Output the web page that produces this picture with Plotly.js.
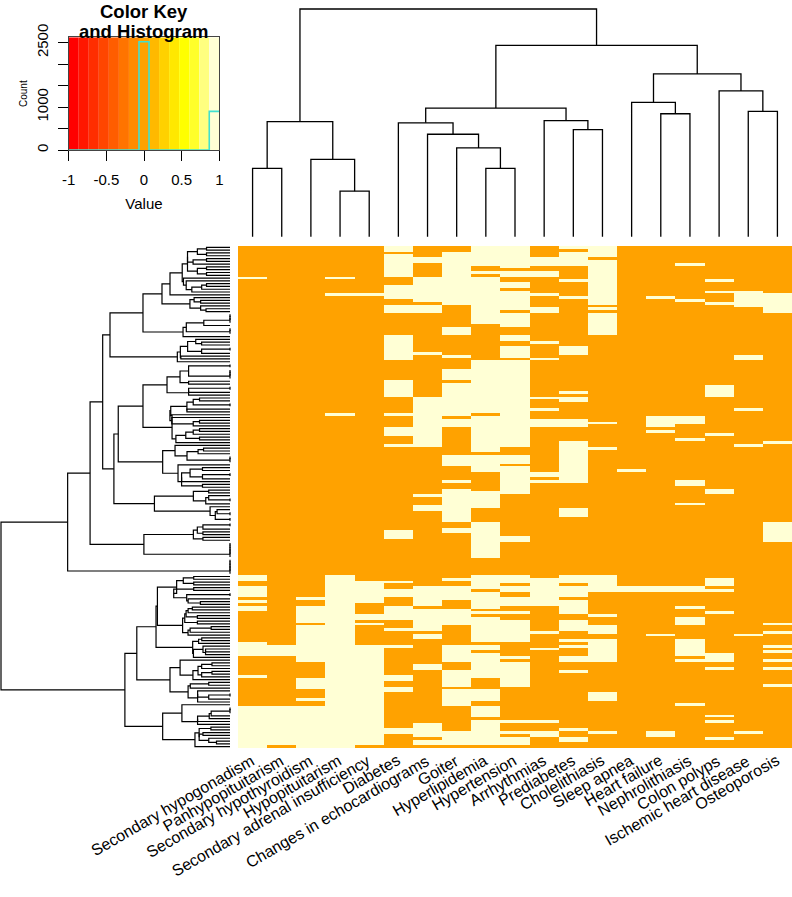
<!DOCTYPE html>
<html><head><meta charset="utf-8">
<script src="https://cdn.plot.ly/plotly-3.0.1.min.js"></script>
<style>html,body{margin:0;padding:0;background:#fff;}#chart{width:792px;height:897px;}</style>
</head><body><div id="chart"></div>
<script>
// ---------- DATA ----------
const columnLabels = ["Secondary hypogonadism","Panhypopituitarism","Secondary hypothyroidism","Hypopituitarism","Secondary adrenal insufficiency","Diabetes","Changes in echocardiograms","Goiter","Hyperlipidemia","Hypertension","Arrhythmias","Prediabetes","Cholelithiasis","Sleep apnea","Heart failure","Nephrolithiasis","Colon polyps","Ischemic heart disease","Osteoporosis"];
const nRows = 180;
// rows (top = 0) where each column has value 1, as [first,last] runs
const onesSecHypogonadism = [[11,11],[118,119],[122,125],[127,127],[129,130],[142,146],[154,154],[165,179]];
const onesPanhypopit = [[143,146],[165,178]];
const onesSecHypothyroid = [[126,126],[129,134],[136,148],[155,158],[162,162],[165,179]];
const onesHypopit = [[11,11],[17,17],[60,60],[118,179]];
const onesSecAdrenal = [[17,17],[120,127],[132,133],[135,135],[143,178]];
const onesDiabetes = [[0,1],[3,10],[14,18],[21,23],[32,40],[48,53],[60,60],[65,67],[71,71],[102,104],[120,120],[123,125],[129,133],[137,137],[143,143],[154,155],[158,159],[173,174]];
const onesEcho = [[4,5],[11,19],[21,23],[38,38],[54,71],[89,89],[93,94],[122,128],[130,137],[139,140],[150,151],[171,175],[177,178]];
const onesGoiter = [[2,20],[29,31],[39,39],[44,47],[49,60],[62,64],[75,78],[84,84],[87,98],[101,102],[119,119],[122,126],[130,135],[143,148],[152,157],[159,164],[174,178]];
const onesHyperlipidemia = [[0,6],[9,9],[11,27],[41,59],[61,73],[75,80],[88,93],[99,111],[118,122],[124,129],[131,131],[133,141],[143,144],[146,154],[159,162],[165,168],[170,178]];
const onesHypertension = [[0,7],[9,10],[13,14],[16,22],[24,28],[32,33],[36,39],[41,71],[75,77],[79,88],[104,105],[118,120],[122,123],[126,128],[131,131],[134,141],[147,147],[149,157],[170,170],[174,174],[176,178]];
const onesArrhythmias = [[4,6],[9,10],[17,17],[22,23],[34,34],[40,40],[54,54],[58,58],[62,64],[81,82],[84,84],[119,128],[138,138],[144,144],[170,170],[174,175]];
const onesPrediabetes = [[0,0],[2,6],[12,12],[18,18],[36,38],[52,52],[54,55],[62,64],[70,84],[94,96],[118,120],[122,125],[127,131],[134,137],[141,141],[143,143],[147,148],[152,152],[173,173],[176,177]];
const onesCholelithiasis = [[0,3],[5,20],[22,22],[24,31],[63,63],[72,72],[118,123],[132,132],[136,138],[141,148],[160,162],[174,174]];
const onesSleepApnea = [[80,80],[122,123]];
const onesHeartFailure = [[18,18],[61,64],[66,66],[122,123],[139,139],[174,175]];
const onesNephrolithiasis = [[6,6],[19,19],[61,63],[69,69],[84,85],[92,92],[122,123],[129,129],[133,135],[141,146],[148,148],[164,164]];
const onesColonPolyps = [[12,12],[16,16],[20,20],[50,53],[67,67],[87,88],[119,121],[123,123],[131,131],[146,148],[151,151],[168,168],[170,170],[176,176]];
const onesIschemic = [[16,21],[39,40],[58,58],[71,71],[139,139],[174,174]];
const onesOsteoporosis = [[17,23],[70,70],[99,105],[135,135],[138,138],[143,143],[145,145],[148,148],[151,151],[157,157]];
const onesByColumn = [onesSecHypogonadism,onesPanhypopit,onesSecHypothyroid,onesHypopit,onesSecAdrenal,onesDiabetes,onesEcho,onesGoiter,onesHyperlipidemia,onesHypertension,onesArrhythmias,onesPrediabetes,onesCholelithiasis,onesSleepApnea,onesHeartFailure,onesNephrolithiasis,onesColonPolyps,onesIschemic,onesOsteoporosis];

// column dendrogram: [height, left, right], "*" = next column
const colTree = [1.0,
  [0.505,[0.30,"*","*"],[0.34,"*",[0.20,"*","*"]]],
  [0.84,
    [0.565,[0.50,"*",[0.45,"*",[0.39,"*",[0.30,"*","*"]]]],[0.51,"*",[0.47,"*","*"]]],
    [0.715,[0.59,"*",[0.54,"*","*"]],[0.64,"*",[0.55,"*","*"]]]]];

// row dendrogram: [height, upper, lower]; "first-last:height" = block of rows
const rowTree = [1.0,
  [0.709,
    [0.611,
      [0.556,
        [0.524,[0.38,[0.297,"0-17:0.262","18-23:0.175"],"24-32:0.205"],"33-41:0.23"],
        [0.507,
          [0.488,[0.38,"42-53:0.275","54-70:0.253"],[0.294,"71-77:0.24","78-86:0.227"]],
          [0.33,"87-92:0.16","93-98:0.087"]]],
      [0.376,"99-105:0.16","106-111:0"]],
    "112-117:0"],
  [0.459,
    [0.407,
      [0.323,[0.317,"118-128:0.233","129-139:0.207"],"140-147:0.163"],
      [0.262,"148-155:0.218","156-163:0.183"]],
    [0.294,"164-171:0.21","172-179:0.153"]]];

// colour key
const keyColors = ["#FF0000","#FF1700","#FF2E00","#FF4600","#FF5D00","#FF7400","#FF8B00","#FFA200","#FFB900","#FFD100","#FFE800","#FFFF00","#FFFF2A","#FFFF80","#FFFFD5"];
const histCounts = [0,0,0,0,0,0,0,2520,0,0,0,0,0,0,900];
const keyTicks = [-1,-0.5,0,0.5,1];
const keyTickText = ["-1","-0.5","0","0.5","1"];
const countTicks = [0,500,1000,1500,2000,2500];
const countTickText = ["0","","1000","","","2500"];

// ---------- BUILD ----------
const W = 792, H = 897;
const fx = p => p / W, fy = p => 1 - p / H;
const nCols = columnLabels.length;
const z = [];
for (let r = 0; r < nRows; r++) z.push(new Array(nCols).fill(0));
onesByColumn.forEach((runs, c) => runs.forEach(([a, b]) => { for (let r = a; r <= b; r++) z[r][c] = 1; }));

const colSegX = [], colSegY = [];
let colCounter = 0;
function layCol(node) {
  if (node === "*") return {pos: colCounter++, h: 0};
  const a = layCol(node[1]), b = layCol(node[2]);
  colSegX.push(a.pos, a.pos, b.pos, b.pos, null);
  colSegY.push(a.h, node[0], node[0], b.h, null);
  return {pos: (a.pos + b.pos) / 2, h: node[0]};
}
layCol(colTree);

function rowDist(r1, r2) { let s = 0; for (let j = 0; j < nCols; j++) { const d = z[r1][j] - z[r2][j]; s += d * d; } return Math.sqrt(s); }
function buildBlock(a, b, Hb) {
  let cl = [];
  for (let r = a; r <= b; r++) cl.push({t: r, m: [r]});
  while (cl.length > 1) {
    let best = -1, bd = Infinity;
    for (let i = 0; i < cl.length - 1; i++) {
      let s = 0;
      cl[i].m.forEach(p => cl[i + 1].m.forEach(q => { s += rowDist(p, q); }));
      const d = s / (cl[i].m.length * cl[i + 1].m.length);
      if (d < bd - 1e-9) { bd = d; best = i; }
    }
    const L = cl[best], R = cl[best + 1];
    cl.splice(best, 2, {t: [bd, L.t, R.t], m: L.m.concat(R.m)});
  }
  const root = cl[0].t;
  if (typeof root === "number") return root;
  const top = root[0];
  const f = top > 0 ? Hb / top : 0;
  function sc(n) { if (typeof n === "number") return n; const l = sc(n[1]), r = sc(n[2]); return [n[0] * f, l, r]; }
  function mono(n) { if (typeof n === "number") return 0; const hl = mono(n[1]), hr = mono(n[2]); n[0] = Math.max(n[0], hl, hr); return n[0]; }
  const out = sc(root); mono(out); out[0] = Hb; return out;
}
function expand(node) {
  if (typeof node === "string") {
    const [rg, hs] = node.split(":"); const [a, b] = rg.split("-").map(Number);
    return buildBlock(a, b, Number(hs));
  }
  if (typeof node === "number") return node;
  return [node[0], expand(node[1]), expand(node[2])];
}
const fullRowTree = expand(rowTree);
const rowSegX = [], rowSegY = [];
function layRow(node) {
  if (typeof node === "number") return {pos: node, h: 0};
  const a = layRow(node[1]), b = layRow(node[2]);
  rowSegY.push(a.pos, a.pos, b.pos, b.pos, null);
  rowSegX.push(a.h, node[0], node[0], b.h, null);
  return {pos: (a.pos + b.pos) / 2, h: node[0]};
}
layRow(fullRowTree);

const keyBreaks = [];
for (let i = 0; i <= keyColors.length; i++) keyBreaks.push(-1 + 2 * i / keyColors.length);

const font = "Liberation Sans, Arial, sans-serif";
const traces = [
  {type: "heatmap", z: z, x: [...Array(nCols).keys()], y: [...Array(nRows).keys()], xaxis: "x", yaxis: "y",
   zmin: 0, zmax: 1, colorscale: [[0, keyColors[7]], [1, keyColors[14]]], showscale: false, hoverinfo: "skip"},
  {type: "scatter", mode: "lines", x: colSegX, y: colSegY, xaxis: "x2", yaxis: "y2", line: {color: "#000", width: 1.3}, hoverinfo: "skip"},
  {type: "scatter", mode: "lines", x: rowSegX, y: rowSegY, xaxis: "x3", yaxis: "y3", line: {color: "#000", width: 1.2}, hoverinfo: "skip"},
  {type: "scatter", mode: "lines", x: keyBreaks, y: histCounts.concat([histCounts[histCounts.length - 1]]), xaxis: "x4", yaxis: "y4",
   line: {color: "#40E0D0", width: 1.6, shape: "hv"}, hoverinfo: "skip"}
];

const hide = {showgrid: false, zeroline: false, showticklabels: false, ticks: "", showline: false};
const colDendY = py => (236.7 - py) / 227.7;
const rowDendX = px => (230 - px) / 229;

const shapes = keyColors.map((c, i) => ({type: "rect", xref: "x4", yref: "y4", x0: keyBreaks[i], x1: keyBreaks[i + 1], y0: 0, y1: 2625,
  fillcolor: c, line: {width: 0}, layer: "below"}));

const annotations = columnLabels.map((t, i) => ({xref: "x", yref: "paper", x: i, y: fy(749), xshift: 7, text: t, showarrow: false,
  textangle: -30, xanchor: "right", yanchor: "top", font: {family: font, size: 16, color: "#000"}}));
annotations.push({xref: "paper", yref: "paper", x: fx(144), y: fy(11), xanchor: "center", yanchor: "middle", showarrow: false,
  text: "<b>Color Key</b>", font: {family: font, size: 18.5, color: "#000"}});
annotations.push({xref: "paper", yref: "paper", x: fx(144), y: fy(31), xanchor: "center", yanchor: "middle", showarrow: false,
  text: "<b>and Histogram</b>", font: {family: font, size: 18.5, color: "#000"}});

const layout = {
  width: W, height: H, margin: {l: 0, r: 0, t: 0, b: 0}, paper_bgcolor: "#fff", plot_bgcolor: "rgba(0,0,0,0)", showlegend: false,
  font: {family: font, color: "#000"},
  xaxis: Object.assign({domain: [fx(238), 1], range: [-0.5, nCols - 0.5], anchor: "y"}, hide),
  yaxis: Object.assign({domain: [fy(748), fy(246)], range: [nRows - 0.5, -0.5], anchor: "x"}, hide),
  xaxis2: Object.assign({domain: [fx(238), 1], range: [-0.5, nCols - 0.5], anchor: "y2"}, hide),
  yaxis2: Object.assign({domain: [fy(245), 1], range: [colDendY(245), colDendY(0)], anchor: "x2"}, hide),
  xaxis3: Object.assign({domain: [0, fx(238)], range: [rowDendX(0), rowDendX(238)], anchor: "y3"}, hide),
  yaxis3: Object.assign({domain: [fy(748), fy(246)], range: [nRows - 0.5, -0.5], anchor: "x3"}, hide),
  xaxis4: {domain: [fx(68.7), fx(219.3)], range: [-1, 1], anchor: "y4", showgrid: false, zeroline: false,
    showline: true, mirror: true, linecolor: "#444", linewidth: 1, ticks: "outside", ticklen: 10, tickcolor: "#000",
    tickvals: keyTicks, ticktext: keyTickText, tickfont: {family: font, size: 15}, ticklabelstandoff: 6,
    title: {text: "Value", font: {family: font, size: 15}, standoff: 11}},
  yaxis4: {domain: [fy(150), fy(37.3)], range: [0, 2625], anchor: "x4", showgrid: false, zeroline: false,
    showline: true, mirror: true, linecolor: "#444", linewidth: 1, ticks: "outside", ticklen: 10, tickcolor: "#000",
    tickvals: countTicks, ticktext: countTickText, tickangle: -90, tickfont: {family: font, size: 15}, ticklabelstandoff: 4,
    title: {text: "Count", font: {family: font, size: 10}, standoff: 4}},
  shapes: shapes, annotations: annotations
};
Plotly.newPlot("chart", traces, layout, {staticPlot: true, displayModeBar: false});
</script></body></html>
